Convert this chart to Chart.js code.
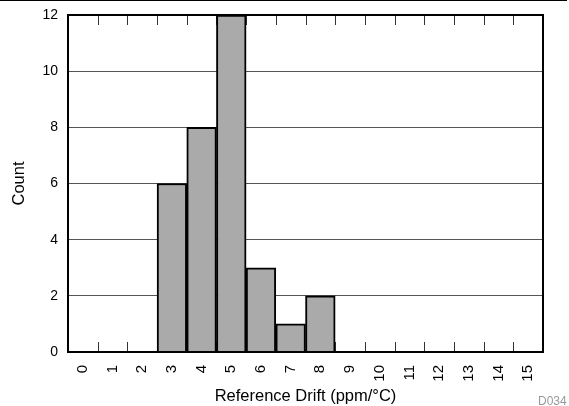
<!DOCTYPE html>
<html>
<head>
<meta charset="utf-8">
<script src="https://cdn.jsdelivr.net/npm/chart.js@4"></script>
<style>
  html, body { margin: 0; padding: 0; background: #fff; }
  #caja { position: relative; width: 569px; height: 406px; }
  #caja .raya { position: absolute; left: 0; top: 0; width: 567px; height: 1px; background: #000; }
  #caja .codigo { position: absolute; left: 538px; top: 394px; font: 12px "Liberation Sans", Arial, sans-serif; color: #999; }
</style>
</head>
<body>
<div id="caja">
  <canvas class="miGrafica" width="569" height="406"></canvas>
  <div class="raya"></div>
  <div class="codigo">D034</div>
</div>
<script>
// datos del histograma
const categorias = ['0','1','2','3','4','5','6','7','8','9','10','11','12','13','14','15'];
const cuentas = [0, 0, 0, 6, 8, 12, 3, 1, 2, 0, 0, 0, 0, 0, 0, 0];
const ticksY = [0, 2, 4, 6, 8, 10, 12];

const fuente = '"Liberation Sans", Arial, sans-serif';

// marco negro y rayitas hacia dentro arriba y abajo
const marco = {
    id: 'marco',
    beforeDatasetsDraw(chart) {
        const ctx = chart.ctx;
        const a = chart.chartArea;
        const x = chart.scales.x;
        const medio = (x.getPixelForValue(1) - x.getPixelForValue(0)) / 2;
        ctx.save();
        ctx.strokeStyle = '#333';
        ctx.lineWidth = 1;
        for (let i = 1; i < categorias.length; i++) {
            const px = Math.round(x.getPixelForValue(i) - medio) + 0.5;
            ctx.beginPath();
            ctx.moveTo(px, a.top);
            ctx.lineTo(px, a.top + 10);
            ctx.moveTo(px, a.bottom);
            ctx.lineTo(px, a.bottom - 10);
            ctx.stroke();
        }
        ctx.restore();
    },
    afterDatasetsDraw(chart) {
        const ctx = chart.ctx;
        const a = chart.chartArea;
        ctx.save();
        ctx.strokeStyle = '#000';
        ctx.lineWidth = 2;
        ctx.strokeRect(a.left, a.top, a.right - a.left, a.bottom - a.top);
        ctx.restore();
    }
};

let hoja = document.querySelector('.miGrafica').getContext('2d');
let miGrafica = new Chart(hoja, {
    type: 'bar',
    data: {
        labels: categorias,
        datasets: [{
            data: cuentas,
            backgroundColor: '#aaaaaa',
            borderColor: '#000',
            borderWidth: 2,
            barPercentage: 1,
            categoryPercentage: 1
        }]
    },
    options: {
        responsive: false,
        animation: false,
        layout: { padding: { top: 15, right: 26, left: 0, bottom: 0 } },
        plugins: { legend: { display: false }, tooltip: { enabled: false } },
        scales: {
            x: {
                afterFit: (s) => { s.height = 54; s.paddingLeft = 0; s.paddingRight = 0; },
                grid: { display: false, drawTicks: false },
                border: { display: false },
                ticks: {
                    color: '#000',
                    font: { family: fuente, size: 15 },
                    minRotation: 90,
                    maxRotation: 90,
                    padding: 13,
                    autoSkip: false
                },
                title: {
                    display: true,
                    text: 'Reference Drift (ppm/°C)',
                    color: '#000',
                    font: { family: fuente, size: 16.5 },
                    padding: { top: 0, bottom: 0 }
                }
            },
            y: {
                min: 0,
                max: 12,
                afterFit: (s) => { s.width = 68; s.paddingTop = 0; s.paddingBottom = 0; },
                afterBuildTicks: (s) => { s.ticks = ticksY.map(v => ({ value: v })); },
                grid: { color: '#555', lineWidth: 1, drawTicks: false },
                border: { display: false },
                ticks: {
                    color: '#000',
                    font: { family: fuente, size: 14 },
                    padding: 10
                },
                title: {
                    display: true,
                    text: 'Count',
                    color: '#000',
                    font: { family: fuente, size: 16.5 },
                    padding: { top: 10, bottom: 0 }
                }
            }
        }
    },
    plugins: [marco]
});
</script>
</body>
</html>
